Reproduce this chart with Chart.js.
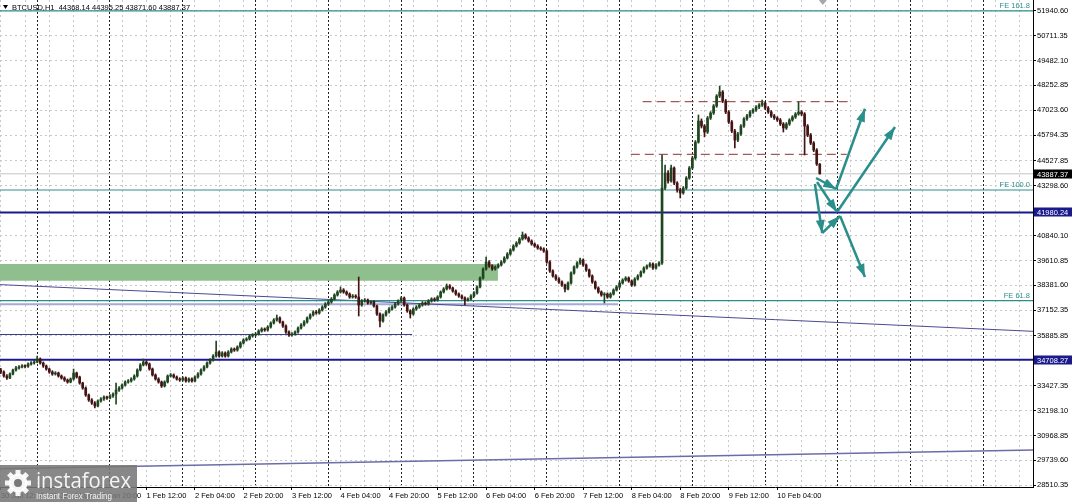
<!DOCTYPE html>
<html>
<head>
<meta charset="utf-8">
<script src="https://cdn.jsdelivr.net/npm/chart.js@4.4.1/dist/chart.umd.min.js"></script>
<style>
  html, body { margin: 0; padding: 0; background: #fff; overflow: hidden; }
  canvas { display: block; }
</style>
</head>
<body>
<canvas id="chart" width="1072" height="502"></canvas>
<script>
// BTCUSD H1 candles, index 0 = 30 Jan 12:00, one per hour
const opens = [
  34200, 34103, 33906, 33807, 34005, 34202, 34301, 34350, 34400, 34380,
  34498, 34548, 34597, 34745, 34548, 34400, 34251, 34103, 34005, 34054,
  33906, 33807, 33708, 33610, 33758, 34054, 33857, 33560, 33313, 32968,
  32721, 32573, 32425, 32672, 32770, 32869, 32820, 32918, 33017, 33215,
  33313, 33462, 33610, 33659, 33758, 33906, 34202, 34449, 34597, 34498,
  34251, 33955, 33758, 33610, 33412, 33610, 33906, 33955, 33857, 33758,
  33708, 33807, 33659, 33758, 33659, 33857, 34005, 34202, 34350, 34548,
  34696, 34893, 35091, 34893, 35041, 34893, 35091, 35239, 35189, 35338,
  35535, 35683, 35733, 35881, 35930, 35979, 36128, 36226, 36177, 36325,
  36522, 36671, 36769, 36572, 36374, 36078, 35930, 35979, 36078, 36276,
  36424, 36572, 36769, 36917, 37066, 37016, 37164, 37312, 37461, 37559,
  37707, 37905, 38053, 38152, 38053, 37954, 37806, 37855, 37806, 37411,
  37609, 37658, 37510, 37559, 37362, 36967, 36621, 36917, 37066, 37214,
  37312, 37461, 37609, 37757, 37411, 37115, 36967, 37214, 37312, 37411,
  37510, 37461, 37609, 37707, 37658, 37806, 38053, 38201, 38349, 38250,
  38102, 37954, 37855, 37757, 37658, 37707, 37855, 38004, 38300, 38744,
  39188, 39534, 39337, 39188, 39287, 39386, 39534, 39732, 39929, 40126,
  40324, 40472, 40670, 40867, 40719, 40571, 40423, 40324, 40225, 40176,
  40077, 39534, 39090, 38843, 38695, 38547, 38399, 38201, 38497, 38991,
  39287, 39485, 39633, 39386, 39139, 38843, 38547, 38250, 38053, 37905,
  37954, 37806, 37954, 38152, 38300, 38497, 38645, 38744, 38596, 38399,
  38695, 38843, 39040, 39238, 39337, 39435, 39238, 39386, 39485, 43187,
  43928, 43533, 44175, 43434, 43089, 42941, 43187, 43681, 44175, 44669,
  45458, 46495, 46248, 45952, 46643, 46890, 47236, 47729, 47927, 47483,
  46940, 46446, 46002, 45557, 45853, 46248, 46594, 46742, 46940, 47038,
  47186, 47285, 47384, 47137, 46940, 46742, 46643, 46545, 46347, 46150,
  46347, 46545, 46693, 46841, 46940, 46841, 46248, 45804, 45409, 45063,
  44368.14
];
const highs = [
  34290, 34160, 33980, 34060, 34250, 34380, 34420, 34470, 34460, 34560,
  34620, 34680, 34890, 34800, 34600, 34450, 34300, 34170, 34120, 34100,
  33960, 33870, 33760, 33810, 34250, 34100, 33900, 33600, 33370, 33020,
  32790, 32640, 32730, 32840, 32930, 32920, 32990, 33080, 33560, 33380,
  33520, 33670, 33730, 33820, 33970, 34260, 34520, 34745, 34660, 34550,
  34300, 34010, 33820, 33660, 33670, 33960, 34030, 34010, 33910, 33820,
  33870, 33860, 33820, 33810, 33920, 34070, 34260, 34420, 34610, 34760,
  34960, 35634, 35150, 35110, 35100, 35160, 35300, 35290, 35400, 35600,
  35750, 35800, 35940, 36000, 36040, 36190, 36290, 36280, 36390, 36580,
  36740, 36917, 36830, 36620, 36430, 36130, 36050, 36140, 36330, 36490,
  36640, 36830, 36980, 37130, 37140, 37230, 37380, 37530, 37640, 37780,
  37970, 38120, 38300, 38220, 38110, 38010, 37930, 37920, 38794, 37680,
  37730, 37710, 37620, 37620, 37410, 37020, 36980, 37130, 37280, 37380,
  37530, 37670, 37820, 37810, 37460, 37180, 37280, 37380, 37480, 37580,
  37570, 37680, 37770, 37770, 37870, 38110, 38270, 38448, 38420, 38300,
  38160, 38010, 37910, 37810, 37770, 37920, 38070, 38360, 38800, 39250,
  39781, 39600, 39400, 39350, 39450, 39600, 39800, 40000, 40190, 40390,
  40540, 40740, 41015, 40930, 40780, 40630, 40480, 40390, 40290, 40240,
  40130, 39600, 39150, 38910, 38760, 38610, 38450, 38560, 39050, 39350,
  39550, 39731, 39690, 39440, 39190, 38900, 38600, 38310, 38110, 38020,
  38010, 38020, 38210, 38370, 38560, 38710, 38810, 38800, 38650, 38760,
  38910, 39100, 39300, 39400, 39500, 39490, 39450, 39560, 44817, 44320,
  44050, 44323, 44230, 43500, 43180, 43260, 43750, 44250, 44740, 45530,
  46791, 46600, 46320, 46720, 46960, 47310, 47800, 48223, 48000, 47560,
  47010, 46520, 46080, 45930, 46320, 46670, 46820, 47010, 47110, 47260,
  47360, 47532, 47450, 47210, 47010, 46820, 46710, 46620, 46420, 46420,
  46610, 46760, 46910, 47433, 47010, 46910, 46320, 45880, 45480, 45130,
  44395.25
];
const lows = [
  34020, 33850, 33740, 33780, 33960, 34150, 34240, 34300, 34310, 34330,
  34440, 34490, 34560, 34490, 34330, 34190, 34040, 33940, 33950, 33850,
  33750, 33640, 33550, 33570, 33700, 33800, 33500, 33250, 32900, 32650,
  32500, 32326, 32380, 32610, 32700, 32750, 32770, 32850, 32520, 33150,
  33260, 33400, 33550, 33600, 33700, 33850, 34150, 34400, 34430, 34190,
  33900, 33700, 33550, 33340, 33360, 33560, 33850, 33800, 33700, 33640,
  33650, 33600, 33600, 33600, 33610, 33800, 33950, 34150, 34300, 34490,
  34640, 34840, 34830, 34840, 34830, 34840, 35040, 35120, 35130, 35280,
  35480, 35630, 35680, 35820, 35870, 35920, 36070, 36110, 36120, 36270,
  36470, 36610, 36510, 36310, 36010, 35860, 35870, 35920, 36020, 36220,
  36370, 36510, 36710, 36860, 36950, 36960, 37110, 37250, 37400, 37500,
  37650, 37850, 38000, 37990, 37890, 37740, 37750, 37740, 36868, 37350,
  37550, 37450, 37450, 37300, 36900, 36325, 36560, 36860, 37010, 37160,
  37250, 37400, 37550, 37350, 37050, 36769, 36910, 37150, 37250, 37350,
  37400, 37400, 37550, 37590, 37600, 37750, 38000, 38150, 38190, 38040,
  37890, 37790, 37700, 37411, 37600, 37650, 37800, 37950, 38250, 38690,
  39130, 39270, 39120, 39130, 39230, 39330, 39480, 39680, 39870, 40070,
  40270, 40410, 40610, 40660, 40510, 40360, 40260, 40160, 40110, 40010,
  39470, 39020, 38780, 38630, 38480, 38330, 38053, 38150, 38440, 38930,
  39230, 39420, 39320, 39070, 38780, 38480, 38190, 37990, 37840, 37510,
  37740, 37750, 37900, 38100, 38240, 38440, 38590, 38530, 38330, 38340,
  38640, 38790, 38980, 39180, 39280, 39170, 39180, 39330, 39420, 43100,
  43420, 43480, 43350, 42980, 42694, 42880, 43120, 43620, 44110, 44600,
  45400, 46150, 45710, 45880, 46570, 46820, 47170, 47650, 47400, 46860,
  46370, 45920, 45162, 45480, 45780, 46180, 46520, 46670, 46870, 46970,
  47110, 47210, 47060, 46870, 46670, 46570, 46470, 46270, 45952, 46080,
  46280, 46480, 46620, 46780, 46760, 44817, 45720, 45330, 44980, 44300,
  43871.60
];
const closes = [
  34103, 33906, 33807, 34005, 34202, 34301, 34350, 34400, 34380, 34498,
  34548, 34597, 34745, 34548, 34400, 34251, 34103, 34005, 34054, 33906,
  33807, 33708, 33610, 33758, 34054, 33857, 33560, 33313, 32968, 32721,
  32573, 32425, 32672, 32770, 32869, 32820, 32918, 33017, 33215, 33313,
  33462, 33610, 33659, 33758, 33906, 34202, 34449, 34597, 34498, 34251,
  33955, 33758, 33610, 33412, 33610, 33906, 33955, 33857, 33758, 33708,
  33807, 33659, 33758, 33659, 33857, 34005, 34202, 34350, 34548, 34696,
  34893, 35091, 34893, 35041, 34893, 35091, 35239, 35189, 35338, 35535,
  35683, 35733, 35881, 35930, 35979, 36128, 36226, 36177, 36325, 36522,
  36671, 36769, 36572, 36374, 36078, 35930, 35979, 36078, 36276, 36424,
  36572, 36769, 36917, 37066, 37016, 37164, 37312, 37461, 37559, 37707,
  37905, 38053, 38152, 38053, 37954, 37806, 37855, 37806, 37411, 37609,
  37658, 37510, 37559, 37362, 36967, 36621, 36917, 37066, 37214, 37312,
  37461, 37609, 37757, 37411, 37115, 36967, 37214, 37312, 37411, 37510,
  37461, 37609, 37707, 37658, 37806, 38053, 38201, 38349, 38250, 38102,
  37954, 37855, 37757, 37658, 37707, 37855, 38004, 38300, 38744, 39188,
  39534, 39337, 39188, 39287, 39386, 39534, 39732, 39929, 40126, 40324,
  40472, 40670, 40867, 40719, 40571, 40423, 40324, 40225, 40176, 40077,
  39534, 39090, 38843, 38695, 38547, 38399, 38201, 38497, 38991, 39287,
  39485, 39633, 39386, 39139, 38843, 38547, 38250, 38053, 37905, 37954,
  37806, 37954, 38152, 38300, 38497, 38645, 38744, 38596, 38399, 38695,
  38843, 39040, 39238, 39337, 39435, 39238, 39386, 39485, 43187, 43928,
  43533, 44175, 43434, 43089, 42941, 43187, 43681, 44175, 44669, 45458,
  46495, 46248, 45952, 46643, 46890, 47236, 47729, 47927, 47483, 46940,
  46446, 46002, 45557, 45853, 46248, 46594, 46742, 46940, 47038, 47186,
  47285, 47384, 47137, 46940, 46742, 46643, 46545, 46347, 46150, 46347,
  46545, 46693, 46841, 46940, 46841, 46248, 45804, 45409, 45063, 44368.14,
  43887.37
];

const xTickLabels = ["30 Jan 12:00", "31 Jan 04:00", "31 Jan 20:00", "1 Feb 12:00", "2 Feb 04:00",
  "2 Feb 20:00", "3 Feb 12:00", "4 Feb 04:00", "4 Feb 20:00", "5 Feb 12:00", "6 Feb 04:00",
  "6 Feb 20:00", "7 Feb 12:00", "8 Feb 04:00", "8 Feb 20:00", "9 Feb 12:00", "10 Feb 04:00"];
const yTickValues = [51940.60, 50711.35, 49482.10, 48252.85, 47023.60, 45794.35, 44527.85, 43298.60,
  40840.10, 39610.85, 38381.60, 37152.35, 35885.85, 33427.35, 32198.10, 30968.85, 29739.60, 28510.35];

// fibo expansion levels
const feNames = ["FE 161.8", "FE 100.0", "FE 61.8"];
const fePrices = [51932, 43089, 37623];
const bidPrice = 43887.37;
const supportPrices = [41980.24, 34708.27];

// green zone: top, bottom, last hour
const zonePrices = [39435, 38610];
const zoneEnd = 163.9;

// other drawn lines [hour, price]
const trendFrom = [[-5, 38450], [-5, 29315], [-5, 37446], [-5, 35955]];
const trendTo = [[345, 36080], [345, 30265], [203.5, 37446], [135.6, 35955]];
const dashFrom = [[211.6, 47448], [207.7, 44851]];
const dashTo = [[280.0, 47448], [278.9, 44851]];
const arrowFrom = [[268.8, 43681], [275.4, 43138], [269.1, 43484], [275.7, 42003], [268.4, 43385], [270.8, 40966], [276.7, 41805]];
const arrowTo = [[275.4, 43138], [284.9, 47100], [275.7, 42003], [294.8, 46199], [270.8, 40966], [276.7, 41805], [284.9, 38794]];

const X_MIN = -0.264, X_MAX = 340.3;
const Y_MIN = 28426, Y_MAX = 52469;

const BULL = "#204620";
const BEAR = "#441414";
const TEAL = "#2a8f8b";
const NAVY = "#1a1a8c";

function hourOf(label) {
  const [d, m, t] = label.split(" ");
  const day = +d + (m === "Feb" ? 31 : 0);
  return (day - 30) * 24 + parseInt(t) - 12;
}
const labelByHour = {};
xTickLabels.forEach(l => { labelByHour[hourOf(l)] = l; });

function seg(a, b, color, width, dash, order) {
  return {
    type: "line",
    data: [{ x: a[0], y: a[1] }, { x: b[0], y: b[1] }],
    borderColor: color, borderWidth: width, borderDash: dash || [],
    pointRadius: 0, fill: false, tension: 0, order: order
  };
}

const datasets = [];
arrowFrom.forEach((a, i) => {
  const ds = seg(a, arrowTo[i], TEAL, 2.5, [], 0);
  ds.isArrow = true;
  datasets.push(ds);
});
datasets.push({
  type: "bar",
  data: opens.map((o, i) => ({ x: i, y: [o, closes[i]] })),
  backgroundColor: ctx => closes[ctx.dataIndex] >= opens[ctx.dataIndex] ? BULL : BEAR,
  barThickness: 2, minBarLength: 1, grouped: false, borderWidth: 0, order: 1
});
datasets.push({
  type: "bar",
  data: lows.map((l, i) => ({ x: i, y: [l, highs[i]] })),
  backgroundColor: ctx => closes[ctx.dataIndex] >= opens[ctx.dataIndex] ? BULL : BEAR,
  barThickness: 1, grouped: false, borderWidth: 0, order: 2
});
dashFrom.forEach((a, i) => datasets.push(seg(a, dashTo[i], "#8e3030", 1, [9, 5], 3)));
datasets.push(seg([-5, bidPrice], [345, bidPrice], "#c4c4c4", 1, [], 6));
supportPrices.forEach(p => datasets.push(seg([-5, p], [345, p], NAVY, 2, [], 4)));
fePrices.forEach(p => datasets.push(seg([-5, p], [345, p], TEAL, 1.2, [], 5)));
const trendStyles = [["#4a4a92", 1], ["#6c6ca6", 1.5], ["#a9a9d8", 2], ["#3c3c8e", 1]];
trendFrom.forEach((a, i) => datasets.push(seg(a, trendTo[i], trendStyles[i][0], trendStyles[i][1], [], 5)));
datasets.push({
  type: "line",
  data: [{ x: -5, y: zonePrices[0] }, { x: zoneEnd, y: zonePrices[0] }],
  borderWidth: 0, pointRadius: 0, backgroundColor: "#8fbf8c",
  fill: { value: zonePrices[1] }, order: 10
});

const overlay = {
  id: "overlay",
  afterDatasetsDraw(chart) {
    const ctx = chart.ctx;
    chart.data.datasets.forEach((ds, i) => {
      if (!ds.isArrow) return;
      const pts = chart.getDatasetMeta(i).data;
      const p0 = pts[0], p1 = pts[1];
      const ang = Math.atan2(p1.y - p0.y, p1.x - p0.x);
      const len = 13, hw = 4.5;
      const bx = p1.x - len * Math.cos(ang), by = p1.y - len * Math.sin(ang);
      ctx.save();
      ctx.fillStyle = TEAL;
      ctx.beginPath();
      ctx.moveTo(p1.x, p1.y);
      ctx.lineTo(bx - hw * Math.sin(ang), by + hw * Math.cos(ang));
      ctx.lineTo(bx + hw * Math.sin(ang), by - hw * Math.cos(ang));
      ctx.closePath();
      ctx.fill();
      ctx.restore();
    });
  },
  afterDraw(chart) {
    const ctx = chart.ctx, a = chart.chartArea, y = chart.scales.y, x = chart.scales.x;
    ctx.save();
    ctx.font = "7.5px 'Liberation Sans'";
    // FE labels
    ctx.fillStyle = TEAL;
    ctx.textAlign = "right";
    ctx.textBaseline = "bottom";
    feNames.forEach((n, i) => ctx.fillText(n, a.right - 3, y.getPixelForValue(fePrices[i]) - 1));
    // price boxes
    ctx.textAlign = "left";
    ctx.textBaseline = "middle";
    const boxes = [[bidPrice, "#000"]].concat(supportPrices.map(p => [p, NAVY]));
    boxes.forEach(([p, c]) => {
      const yy = Math.round(y.getPixelForValue(p));
      ctx.fillStyle = c;
      ctx.fillRect(a.right + 1, yy - 4.5, 38, 9);
      ctx.fillStyle = "#fff";
      ctx.fillText(p.toFixed(2), a.right + 4, yy + 0.5);
    });
    // title
    ctx.fillStyle = "#000";
    ctx.beginPath();
    ctx.moveTo(3, 5); ctx.lineTo(8, 5); ctx.lineTo(5.5, 9); ctx.closePath(); ctx.fill();
    ctx.fillText("BTCUSD,H1  " + [opens, highs, lows, closes].map(s => s[s.length - 1].toFixed(2)).join(" "), 12, 7.5);
    // chart shift marker
    const sx = x.getPixelForValue(closes.length);
    ctx.fillStyle = "#a8a8a8";
    ctx.beginPath();
    ctx.moveTo(sx - 4, 0); ctx.lineTo(sx + 4, 0); ctx.lineTo(sx, 5); ctx.closePath(); ctx.fill();
    // logo
    ctx.fillStyle = "rgba(120,120,120,0.88)";
    ctx.fillRect(0, 465, 137, 37);
    ctx.fillStyle = "rgba(255,255,255,0.92)";
    ctx.translate(18, 483);
    for (let k = 0; k < 8; k++) {
      ctx.save();
      ctx.rotate(k * Math.PI / 4);
      ctx.fillRect(-2.5, -13, 5, 6);
      ctx.restore();
    }
    ctx.beginPath(); ctx.arc(0, 0, 9.5, 0, Math.PI * 2); ctx.fill();
    ctx.fillStyle = "rgba(120,120,120,1)";
    ctx.beginPath(); ctx.arc(0, 0, 4, 0, Math.PI * 2); ctx.fill();
    ctx.setTransform(1, 0, 0, 1, 0, 0);
    ctx.fillStyle = "rgba(255,255,255,0.92)";
    ctx.textBaseline = "alphabetic";
    ctx.font = "21px 'Open Sans'";
    ctx.fillText("instaforex", 36, 488, 95);
    ctx.font = "8.5px 'Liberation Sans'";
    ctx.fillText("Instant Forex Trading", 36, 499, 76);
    ctx.restore();
  }
};

Chart.defaults.font.family = "'Liberation Sans', Arial, sans-serif";
Chart.defaults.font.size = 7.5;
Chart.defaults.color = "#000";

// keep the plot area edge to edge: no label padding
function noPad(s) {
  s.paddingTop = 0; s.paddingBottom = 0; s.paddingLeft = 0; s.paddingRight = 0;
}

new Chart(document.getElementById("chart"), {
  type: "bar",
  data: { datasets: datasets },
  options: {
    responsive: false,
    animation: false,
    devicePixelRatio: 1,
    layout: { padding: 0, autoPadding: false },
    plugins: { legend: { display: false }, tooltip: { enabled: false } },
    scales: {
      x: {
        type: "linear", position: "bottom", min: X_MIN, max: X_MAX, offset: false,
        afterBuildTicks: s => {
          const t = [];
          for (let h = 0; h <= X_MAX; h += 8) t.push({ value: h });
          s.ticks = t;
        },
        afterFit: s => { s.height = 15; noPad(s); },
        ticks: {
          autoSkip: false, maxRotation: 0, align: "start", padding: 1,
          callback: v => labelByHour[v] || ""
        },
        grid: {
          offset: false, color: "#c8c8c8", lineWidth: 1, tickLength: 3,
          tickColor: c => (c.tick && labelByHour[c.tick.value]) ? "#000" : "rgba(0,0,0,0)",
          tickBorderDash: []
        },
        border: { display: true, color: "#000", width: 1, dash: [2, 3] }
      },
      xs: {
        type: "linear", position: "bottom", min: X_MIN, max: X_MAX, offset: false,
        afterBuildTicks: s => {
          const t = [];
          for (let h = 12; h <= X_MAX; h += 24) t.push({ value: h });
          s.ticks = t;
        },
        afterFit: s => { s.height = 0; noPad(s); },
        ticks: { display: false },
        grid: { offset: false, color: "#222", lineWidth: 1, drawTicks: false },
        border: { display: false, dash: [2, 2] }
      },
      y: {
        type: "linear", position: "right", min: Y_MIN, max: Y_MAX, beginAtZero: false,
        afterBuildTicks: s => { s.ticks = yTickValues.map(v => ({ value: v })); },
        afterFit: s => { s.width = 39; noPad(s); },
        ticks: { autoSkip: false, padding: 1, callback: v => v.toFixed(2) },
        grid: { color: "#c8c8c8", lineWidth: 1, tickLength: 3, tickColor: "#000", tickBorderDash: [] },
        border: { display: true, color: "#000", width: 1, dash: [2, 3] }
      }
    }
  },
  plugins: [overlay]
});
</script>
</body>
</html>
